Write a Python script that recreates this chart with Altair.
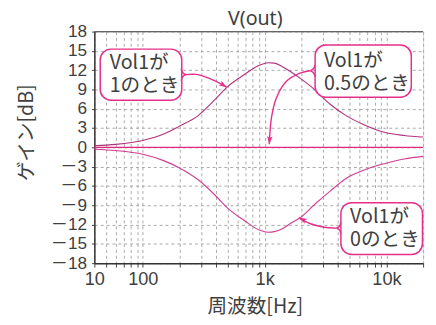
import altair as alt
import pandas as pd

FONT = "Noto Sans CJK JP"
NUMFONT = "Liberation Sans, Noto Sans CJK JP"
TXT = "#404040"
MAG = "#e62e8b"

# ---- data ----
freq = [40, 60, 100, 150, 200, 283, 400, 494, 673, 916, 1070, 1200, 1410, 1640,
        2000, 2530, 3450, 4700, 6400, 9800, 14000, 20000]
gain_vol1 = [0.25, 0.46, 1.07, 2.1, 3.3, 4.9, 7.6, 9.4, 11.25, 12.8, 13.15, 13.1,
             12.5, 11.75, 10.6, 9.1, 6.7, 4.9, 3.6, 2.3, 1.85, 1.6]
gain_vol0 = [-0.3, -0.5, -1.07, -2.1, -3.2, -5.0, -7.6, -9.4, -11.3, -12.9, -13.2,
             -13.1, -12.6, -11.8, -10.8, -9.0, -6.8, -4.8, -3.6, -2.5, -1.8, -1.4]
flat_freq = [40, 20000]
gain_vol05 = [0, 0]

x_grid = [40, 50, 60, 70, 80, 90, 100, 200, 300, 400, 500, 600, 700, 800, 900,
          1000, 2000, 3000, 4000, 5000, 6000, 7000, 8000, 9000, 10000, 20000]
x_tick_vals = [40, 100, 1000, 10000]
x_tick_labels = ["10", "100", "1k", "10k"]
y_ticks = [-18, -15, -12, -9, -6, -3, 0, 3, 6, 9, 12, 15, 18]

title_text = "V(out)"
x_title = "周波数[Hz]"
y_title = "ゲイン[dB]"

# annotation boxes (freq left/right, dB top/bottom)
box_f1 = [44.7, 2596, 4228]
box_f2 = [208.8, 16000, 19760]
box_top = [15.27, 15.92, -8.6]
box_bot = [7.33, 7.79, -16.64]

# annotation texts (first-line centre)
txt_f = [53.5, 3067, 5032]
txt_db = [13.05, 13.39, -10.89]
txt_s = ["Vol1が\n1のとき", "Vol1が\n0.5のとき", "Vol1が\n0のとき"]

# connectors (incl. the small bubble cusps)
conn_id = ["1", "1", "1", "1", "1",
           "1a", "1a", "1a", "1b", "1b", "1b",
           "2", "2", "2", "2", "2", "2",
           "2a", "2a", "2a", "2b", "2b", "2b",
           "3", "3", "3", "3", "3",
           "3a", "3a", "3a", "3b", "3b", "3b"]
conn_f = [224.9, 275.9, 351, 453, 488,
          206, 212.7, 224.9, 206, 212.7, 224.9,
          2377, 1928, 1504, 1249, 1138, 1092,
          2596, 2514, 2377, 2596, 2514, 2377,
          3897, 3084, 2409, 1939, 1910,
          4228, 4121, 3897, 4228, 4121, 3897]
conn_db = [11.3, 11.34, 10.73, 9.73, 9.33,
           12.21, 11.6, 11.3, 10.38, 10.99, 11.3,
           11.91, 11.5, 10.23, 7.69, 4.63, 0.5,
           12.82, 12.21, 11.91, 10.99, 11.6, 11.91,
           -12.56, -12.41, -11.91, -11.05, -10.95,
           -11.64, -12.26, -12.56, -13.48, -12.87, -12.56]
arrow_f = [491, 1090, 1904]
arrow_db = [9.31, 0.45, -10.92]
arrow_ang = [122, 185, 297]

W, H = 335, 236
xs = alt.Scale(type="log", domain=[40, 20000], nice=False)
ys = alt.Scale(domain=[-18, 18], nice=False)

n = len(freq)
curves = pd.DataFrame({
    "f": freq * 2 + flat_freq,
    "db": gain_vol1 + gain_vol0 + gain_vol05,
    "s": ["v1"] * n + ["v0"] * n + ["v05"] * 2,
})

lab_expr = " : ".join(
    f"datum.value == {v} ? '{l}'" for v, l in zip(x_tick_vals, x_tick_labels)
) + " : ''"

x_axis = alt.Axis(
    values=x_grid, labelExpr=lab_expr, grid=True, gridDash=[3, 3],
    gridColor="#a8a8a8", gridWidth=1, tickSize=4, tickColor="#444",
    labelFontSize=18.5, labelColor=TXT, labelFont=NUMFONT, labelPadding=3,
    labelFlush=False, labelOverlap=False, domainColor="#333", domainWidth=1.5,
    title=None,
)
y_axis = alt.Axis(
    values=y_ticks,
    labelExpr="datum.value < 0 ? '－' + (-datum.value) : '' + datum.value",
    grid=True, gridDash=[3, 3], gridColor="#a8a8a8", gridWidth=1,
    tickSize=3, tickColor="#444", labelFontSize=17.5, labelColor=TXT,
    labelFont=NUMFONT, labelPadding=5, labelOverlap=False, labelFlush=False,
    domainColor="#333", domainWidth=1.5,
    title=None,
)

X = alt.X("f:Q", scale=xs, axis=x_axis)
Y = alt.Y("db:Q", scale=ys, axis=y_axis)

lines = alt.Chart(curves).mark_line(strokeWidth=1.1, interpolate="monotone").encode(
    x=X, y=Y,
    color=alt.Color("s:N", scale=alt.Scale(domain=["v1", "v0", "v05"],
                    range=["#b3307c", "#d23c92", "#e0287e"]), legend=None),
)

top_border = alt.Chart(pd.DataFrame({"a": [0]})).mark_rule(
    color="#666", strokeWidth=1.2
).encode(x=alt.value(0), x2=alt.value(W), y=alt.value(0))

conn = pd.DataFrame({"f": conn_f, "db": conn_db, "id": conn_id,
                     "o": list(range(len(conn_f)))})
conn_layer = alt.Chart(conn).mark_line(
    color=MAG, strokeWidth=1.4, interpolate="catmull-rom"
).encode(x=X, y=Y, detail="id:N", order="o:Q")

arrows = pd.DataFrame({"f": arrow_f, "db": arrow_db, "ang": arrow_ang})
arrow_layer = alt.Chart(arrows).mark_point(
    shape="M0,0L0.45,1.4L0,1.1L-0.45,1.4Z", filled=True, color=MAG,
    size=144, opacity=1
).encode(x=X, y=Y, angle=alt.Angle("ang:Q", scale=None))

boxes = pd.DataFrame({"f": box_f1, "f2": box_f2, "db": box_top, "db2": box_bot})
box_layer = alt.Chart(boxes).mark_rect(
    fill="white", stroke=MAG, strokeWidth=1.5, cornerRadius=11
).encode(x=X, x2="f2:Q", y=Y, y2="db2:Q")

texts = pd.DataFrame({"f": txt_f, "db": txt_db, "t": txt_s})
text_layer = alt.Chart(texts).mark_text(
    align="left", baseline="middle", font=FONT, fontSize=20, color=TXT,
    lineBreak="\n", lineHeight=23
).encode(x=X, y=Y, text="t:N")

title_layer = alt.Chart(pd.DataFrame({"t": [title_text]})).mark_text(
    align="center", baseline="alphabetic", font="Noto Sans", fontSize=20, color=TXT
).encode(x=alt.value(164), y=alt.value(-7), text="t:N")

xtitle_layer = alt.Chart(pd.DataFrame({"t": [x_title]})).mark_text(
    align="center", baseline="middle", font=FONT, fontSize=20, color=TXT
).encode(x=alt.value(164), y=alt.value(H + 45), text="t:N")

ytitle_layer = alt.Chart(pd.DataFrame({"t": [y_title]})).mark_text(
    align="center", baseline="middle", font=FONT, fontSize=20, color=TXT,
    angle=270
).encode(x=alt.value(-69), y=alt.value(103), text="t:N")

chart = alt.layer(
    lines, top_border, box_layer, conn_layer, arrow_layer, text_layer,
    title_layer, xtitle_layer, ytitle_layer
).properties(
    width=W, height=H,
    autosize=alt.AutoSizeParams(type="none"),
    padding={"left": 88, "top": 21, "right": 5, "bottom": 60},
).configure_view(stroke=None).configure(background="white")

chart.save("out.html", embed_options={"renderer": "svg", "actions": False})
